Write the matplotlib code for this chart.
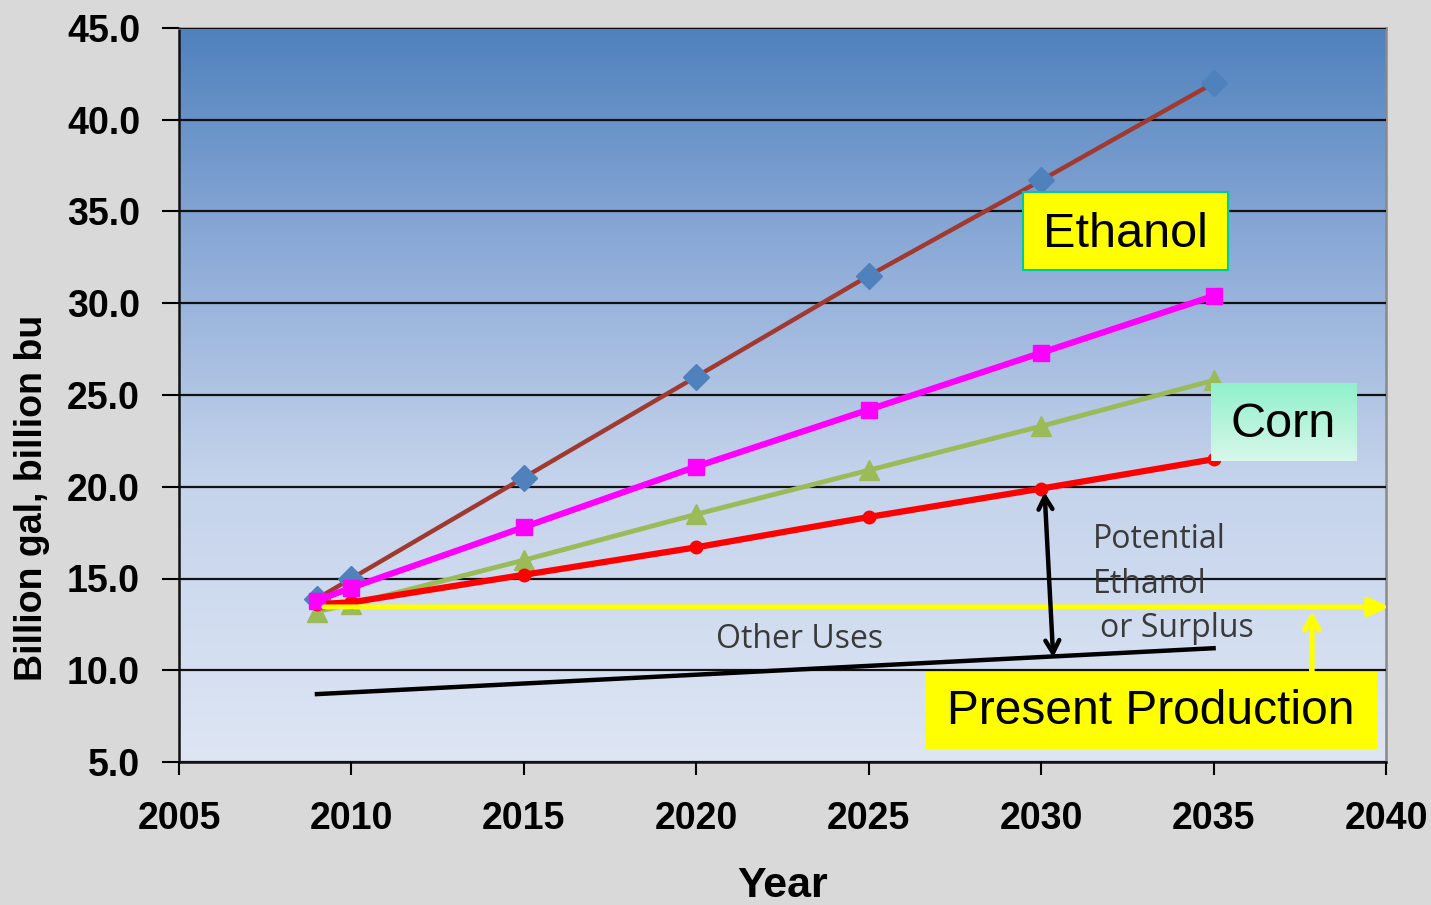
import numpy as np
import matplotlib
matplotlib.use('Agg')
import matplotlib.pyplot as plt
from matplotlib.patches import Rectangle
from matplotlib.colors import LinearSegmentedColormap

# projections, billion gal / billion bu
years = [2009, 2010, 2015, 2020, 2025, 2030, 2035]
ethanol_high = [13.9, 15.0, 20.5, 26.0, 31.5, 36.7, 42.0]
ethanol_mid = [13.8, 14.5, 17.8, 21.1, 24.2, 27.3, 30.4]
corn_high = [13.2, 13.6, 16.0, 18.5, 20.9, 23.3, 25.8]
corn_low = [13.6, 13.7, 15.2, 16.7, 18.35, 19.9, 21.5]

other_years = [2009, 2035]
other_uses = [8.7, 11.2]

present_production = 13.45

x_ticks = [2005, 2010, 2015, 2020, 2025, 2030, 2035, 2040]
y_ticks = [5, 10, 15, 20, 25, 30, 35, 40, 45]

bold = {'family': 'Liberation Sans', 'weight': 'bold'}

fig = plt.figure(figsize=(14.31, 9.05), dpi=100, facecolor='#d9d9d9')
ax = fig.add_axes([179 / 1431, 1 - 762 / 905, (1386 - 179) / 1431, (762 - 28) / 905])
ax.set_xlim(2005, 2040)
ax.set_ylim(5, 45)

# blue gradient behind the plot
stops = [(0.0, (222/255, 230/255, 244/255)),
         (0.4, (195/255, 210/255, 235/255)),
         (0.7, (140/255, 170/255, 215/255)),
         (1.0, (79/255, 129/255, 189/255))]
cmap = LinearSegmentedColormap.from_list('bg', stops)
grad = np.linspace(0, 1, 256).reshape(-1, 1)
ax.imshow(grad, cmap=cmap, aspect='auto', origin='lower',
          extent=[0, 1, 0, 1], transform=ax.transAxes, zorder=0)

ax.set_yticks(y_ticks)
ax.set_xticks(x_ticks)
ax.set_yticklabels([f'{v:.1f}' for v in y_ticks], fontdict=bold, fontsize=27)
ax.set_xticklabels([str(v) for v in x_ticks], fontdict=bold, fontsize=27)
ax.tick_params(axis='y', length=12, width=1.5, pad=16)
ax.tick_params(axis='x', length=9, width=1.5, pad=19)
ax.grid(axis='y', color='#111111', linewidth=1.6, zorder=1)
ax.set_axisbelow(False)
for side in ['left', 'bottom']:
    ax.spines[side].set_linewidth(1.8)
    ax.spines[side].set_color('#111111')
for side in ['top', 'right']:
    ax.spines[side].set_linewidth(1.8)
    ax.spines[side].set_color('#8a8a8a')

ax.set_xlabel('Year', fontdict=bold, fontsize=31)
ax.xaxis.set_label_coords((783 - 179) / 1207, -(866 - 762) / 734)
ax.set_ylabel('Billion gal, billion bu', fontdict=bold, fontsize=27)
ax.yaxis.set_label_coords(-(179 - 50) / 1207, (762 - 498) / 734)

# series
ax.plot(years, ethanol_high, color='#a0392f', lw=3.2, marker='D', ms=13,
        mfc='#4f81bd', mec='#4f81bd', zorder=3)
ax.plot(years, corn_high, color='#9bbb59', lw=3.5, marker='^', ms=15,
        mfc='#9bbb59', mec='#9bbb59', zorder=4)
ax.plot(years, corn_low, color='#ff0000', lw=4.5, marker='o', ms=9,
        mfc='#ff0000', mec='#ff0000', zorder=5)
ax.plot(years, ethanol_mid, color='#ff00ff', lw=4.5, marker='s', ms=12,
        mfc='#ff00ff', mec='#ff00ff', zorder=6)
ax.plot(other_years, other_uses, color='black', lw=3.2, zorder=5)

# present production arrow
ax.annotate('', xy=(2040.1, present_production), xytext=(2009.2, present_production),
            arrowprops=dict(arrowstyle='-|>,head_length=1.2,head_width=0.55',
                            color='#ffff00', lw=3.6, shrinkA=0, shrinkB=0),
            annotation_clip=False, zorder=7)

# gap between corn and other uses
ax.annotate('', xy=(2030.1, 19.7), xytext=(2030.35, 10.7),
            arrowprops=dict(arrowstyle='<->,head_length=0.9,head_width=0.5',
                            color='black', lw=3.2, shrinkA=0, shrinkB=0), zorder=7)

# up arrow from the production label
ax.annotate('', xy=(2037.85, 13.2), xytext=(2037.85, 9.85),
            arrowprops=dict(arrowstyle='->,head_length=0.9,head_width=0.5',
                            color='#ffff00', lw=4, shrinkA=0, shrinkB=0),
            annotation_clip=False, zorder=7)

note = {'family': 'Open Sans', 'color': '#3a3a3a', 'fontsize': 23}
ax.text(2031.5, 17.1, 'Potential', ha='left', va='center', zorder=8, **note)
ax.text(2031.5, 14.65, 'Ethanol', ha='left', va='center', zorder=8, **note)
ax.text(2031.7, 12.25, 'or Surplus', ha='left', va='center', zorder=8, **note)
ax.text(2023.0, 11.65, 'Other Uses', ha='center', va='center', zorder=8, **note)

# label boxes
ax.add_patch(Rectangle((2029.47, 31.8), 5.94, 4.26, facecolor='#ffff00',
                       edgecolor='#00c8a0', lw=1.5, zorder=9, clip_on=False))
ax.text(2032.44, 33.75, 'Ethanol', family='Liberation Sans', fontsize=35,
        ha='center', va='center', zorder=10)

corn_box = [2034.92, 2039.13, 21.4, 25.6]
corn_grad = LinearSegmentedColormap.from_list('corn', ['#d8f8ea', '#90f0cc'])
ax.imshow(grad, cmap=corn_grad, aspect='auto', origin='lower',
          extent=corn_box, zorder=9, clip_on=False)
ax.text(2037.02, 23.4, 'Corn', family='Liberation Sans', fontsize=35,
        ha='center', va='center', zorder=10)

ax.add_patch(Rectangle((2026.63, 5.71), 13.1, 4.19, facecolor='#ffff00',
                       edgecolor='none', zorder=9, clip_on=False))
ax.text(2033.18, 7.75, 'Present Production', family='Liberation Sans', fontsize=34.5,
        ha='center', va='center', zorder=10)

ax.set_xlim(2005, 2040)
ax.set_ylim(5, 45)

fig.savefig('out.png', dpi=100, facecolor=fig.get_facecolor())
